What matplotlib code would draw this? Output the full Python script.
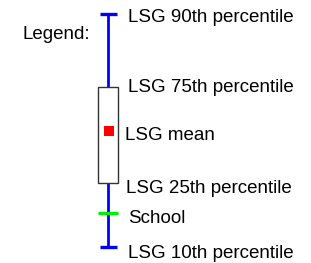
import matplotlib.pyplot as plt
from matplotlib.patches import Rectangle

# legend schematic values (arbitrary score scale)
p10 = 16.3
school = 49.7
p25 = 80.3
mean = 132
p75 = 175.7
p90 = 249

labels = ["LSG 90th percentile", "LSG 75th percentile", "LSG mean",
          "LSG 25th percentile", "School", "LSG 10th percentile"]

plt.rcParams['font.family'] = ['Liberation Sans', 'DejaVu Sans']

fig = plt.figure(figsize=(3.11, 2.63), dpi=100)
ax = fig.add_axes([0, 0, 1, 1])
ax.set_xlim(0, 311)
ax.set_ylim(0, 263)
ax.axis('off')

x0 = 108
# whiskers
ax.plot([x0, x0], [p10, p25], color='#0000ff', lw=2.0, solid_capstyle='butt')
ax.plot([x0, x0], [p75, p90], color='#0000ff', lw=2.0, solid_capstyle='butt')
ax.plot([x0 - 8.5, x0 + 8.5], [p90, p90], color='#0000ff', lw=2.4, solid_capstyle='butt')
ax.plot([x0 - 8.5, x0 + 8.5], [p10, p10], color='#0000ff', lw=2.4, solid_capstyle='butt')
# box
ax.add_patch(Rectangle((x0 - 10, p25), 19.5, p75 - p25, facecolor='white',
                       edgecolor='#333333', lw=1.0, zorder=3))
# mean
ax.plot([x0 + 0.5], [mean], marker='s', color='#ff0000', markersize=7.5,
        markeredgewidth=0, zorder=4)
# school
ax.plot([x0 - 10, x0 + 10], [school, school], color='#00ee00', lw=2.4,
        solid_capstyle='butt', zorder=4)

fs = 13.5
ax.text(23, 224, "Legend:", fontsize=fs, va='baseline', ha='left')
ax.text(128, p90 - 8, labels[0], fontsize=fs, va='baseline')
ax.text(128, p75 - 4.7, labels[1], fontsize=fs, va='baseline')
ax.text(125, mean - 9, labels[2], fontsize=fs, va='baseline')
ax.text(126, p25 - 10, labels[3], fontsize=fs, va='baseline')
ax.text(128, school - 10, labels[4], fontsize=fs, va='baseline')
ax.text(128, p10 - 11, labels[5], fontsize=fs, va='baseline')

fig.savefig("out.png", dpi=100)
